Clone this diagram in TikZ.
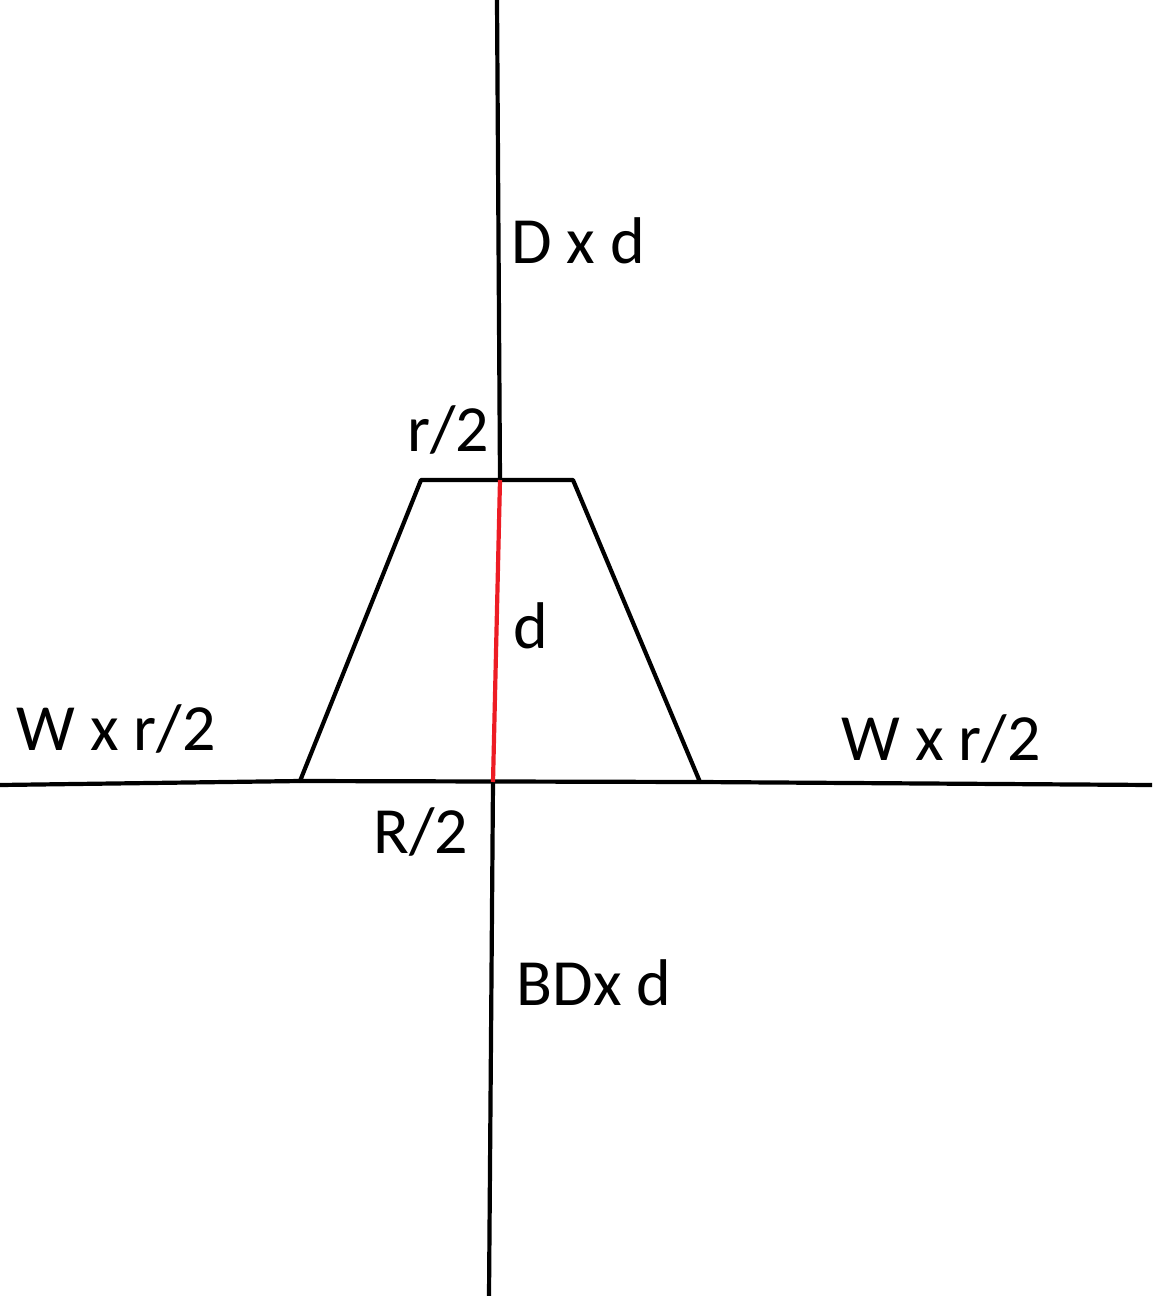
\documentclass[tikz,border=0pt]{standalone}
\usepackage{fontspec}
\setmainfont{Carlito}
\definecolor{penred}{RGB}{237,28,36}
\tikzset{
  axis/.style={line width=2.1pt, black},
  lbl/.style={inner sep=0pt, anchor=base, font=\fontsize{33}{39}\selectfont}
}

\begin{document}
\begin{tikzpicture}[x=0.5pt, y=-0.5pt]
\useasboundingbox (0,0) rectangle (1152,1296);
% corners of the trapezoid
\coordinate (bl) at (300,781);
\coordinate (tl) at (421,480);
\coordinate (tr) at (573,480);
\coordinate (br) at (700,782);
\coordinate (top) at (500,480);
\coordinate (bot) at (493,782);
%
\draw[axis] (497,0) -- (top);
\draw[axis] (bot) -- (489,1296);
\draw[axis] (0,785) -- (bl);
\draw[axis] (br) -- (1152,785);
\draw[axis, line join=round] (bl) -- (tl) -- (tr) -- (br) -- cycle;
\draw[line width=2.1pt, penred] (top) -- (bot);
%
\node[lbl] (Dd)  at (578,263)  {D x d};
\node[lbl] (r2)  at (448,451)  {r/2};
\node[lbl] (dd)  at (531,648)  {d};
\node[lbl] (WL)  at (116,750)  {W x r/2};
\node[lbl] (WR)  at (941,760)  {W x r/2};
\node[lbl] (R2)  at (421,853)  {R/2};
\node[lbl] (BD)  at (594,1005) {BDx d};
\end{tikzpicture}
\end{document}
